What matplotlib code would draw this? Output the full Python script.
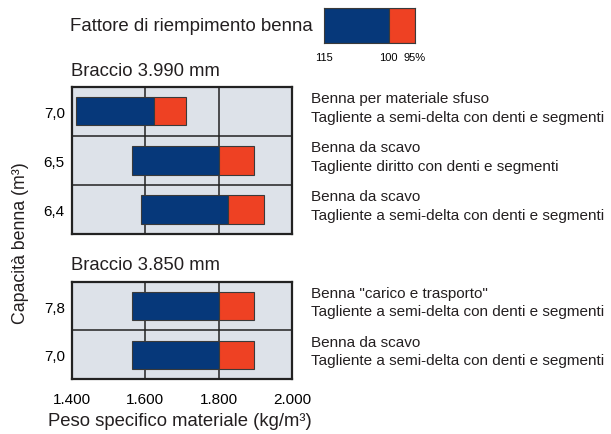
import matplotlib.pyplot as plt
import numpy as np

plt.rcParams['font.family'] = ['Liberation Sans', 'DejaVu Sans']
plt.rcParams['text.color'] = '#231f20'

# fill factor legend (percent)
fill_factors = [115, 100, 95]
fill_labels = ['115', '100', '95%']

# arm 3.990 mm
arm_a = 'Braccio 3.990 mm'
cap_a = ['7,0', '6,5', '6,4']
rho115_a = [1413, 1565, 1588]
rho100_a = [1625, 1800, 1826]
rho95_a = [1711, 1895, 1922]
desc_a = ['Benna per materiale sfuso\nTagliente a semi-delta con denti e segmenti',
          'Benna da scavo\nTagliente diritto con denti e segmenti',
          'Benna da scavo\nTagliente a semi-delta con denti e segmenti']

# arm 3.850 mm
arm_b = 'Braccio 3.850 mm'
cap_b = ['7,8', '7,0']
rho115_b = [1565, 1565]
rho100_b = [1800, 1800]
rho95_b = [1895, 1895]
desc_b = ['Benna "carico e trasporto"\nTagliente a semi-delta con denti e segmenti',
          'Benna da scavo\nTagliente a semi-delta con denti e segmenti']

x_ticks = [1400, 1600, 1800, 2000]
x_labels = ['1.400', '1.600', '1.800', '2.000']

BLUE = '#06387a'
RED = '#ee4123'
BG = '#dde2e9'
EDGE = '#3a3a3a'
W, H = 611, 435


def px(x0, y0, x1, y1):
    return [x0 / W, 1 - y1 / H, (x1 - x0) / W, (y1 - y0) / H]


def panel(ax, caps, lo, mid, hi, descs):
    n = len(caps)
    y = np.arange(n) + 0.5
    ax.barh(y, np.subtract(mid, lo), left=lo, height=0.58, color=BLUE,
            edgecolor=EDGE, linewidth=0.8, zorder=3)
    ax.barh(y, np.subtract(hi, mid), left=mid, height=0.58, color=RED,
            edgecolor=EDGE, linewidth=0.8, zorder=3)
    ax.set_xlim(1400, 2000)
    ax.set_ylim(n, 0)
    ax.set_facecolor(BG)
    for v in [1600, 1800]:
        ax.axvline(v, color='#222222', linewidth=1.1, zorder=1)
    for k in range(1, n):
        ax.axhline(k, color='#222222', linewidth=1.1, zorder=1)
    ax.set_yticks(y, caps, fontsize=11)
    ax.tick_params(length=0, pad=5)
    for s in ax.spines.values():
        s.set_linewidth(1.6)
        s.set_color('#222222')
    for yy, d in zip(y, descs):
        ax.text(1.083, yy - 0.08, d, transform=ax.get_yaxis_transform(),
                ha='left', va='center', fontsize=11, linespacing=1.4,
                family=['Liberation Sans Narrow', 'Liberation Sans'])


fig = plt.figure(figsize=(W / 100, H / 100), dpi=100)

ax1 = fig.add_axes(px(71.7, 87.7, 292.3, 235))
panel(ax1, cap_a, rho115_a, rho100_a, rho95_a, desc_a)
ax1.set_xticks(x_ticks, [])

ax2 = fig.add_axes(px(71.7, 282.7, 292.3, 380))
panel(ax2, cap_b, rho115_b, rho100_b, rho95_b, desc_b)
ax2.set_xticks(x_ticks, x_labels, fontsize=11)
ax2.tick_params(axis='x', pad=9)

# fill factor legend, drawn on an inverse scale (density ~ 1 / fill factor)
inv = [1 / (f / 100) for f in fill_factors]
lax = fig.add_axes(px(324, 9.3, 414.7, 44.3))
lax.barh(0.5, inv[1] - inv[0], left=inv[0], height=1, color=BLUE, edgecolor=EDGE, linewidth=0.8)
lax.barh(0.5, inv[2] - inv[1], left=inv[1], height=1, color=RED, edgecolor=EDGE, linewidth=0.8)
lax.set_xlim(inv[0], inv[2])
lax.set_ylim(0, 1)
lax.set_yticks([])
lax.set_xticks(inv, fill_labels, fontsize=8)
lax.tick_params(length=0, pad=6)
for s in lax.spines.values():
    s.set_color(EDGE)
    s.set_linewidth(0.8)

fig.text(313 / W, 1 - 26.7 / H, 'Fattore di riempimento benna', ha='right', va='center', fontsize=13.4)
fig.text(70.7 / W, 1 - 71 / H, arm_a, ha='left', va='center', fontsize=13.3)
fig.text(70.7 / W, 1 - 266 / H, arm_b, ha='left', va='center', fontsize=13.3)
fig.text(21 / W, 1 - 243 / H, 'Capacità benna (m³)', rotation=90, ha='center', va='center', fontsize=12.8)
fig.text(180 / W, 1 - 421.7 / H, 'Peso specifico materiale (kg/m³)', ha='center', va='center', fontsize=13.3)

fig.savefig('out.png', dpi=100)
